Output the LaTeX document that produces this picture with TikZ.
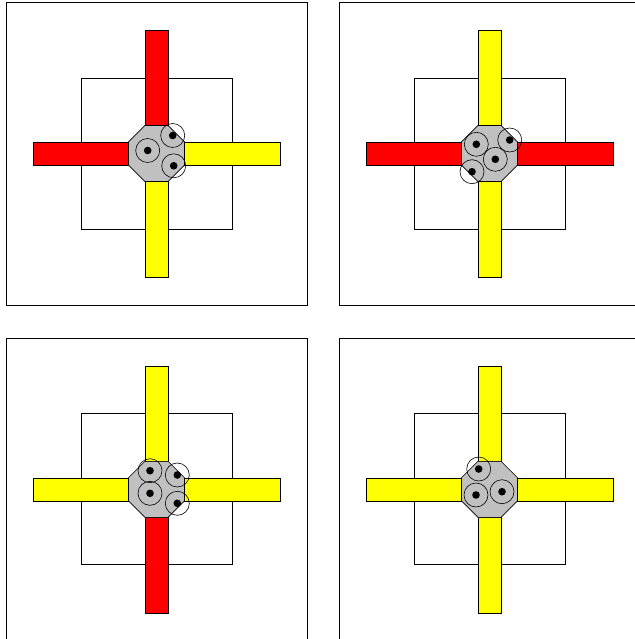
\documentclass[tikz,border=0pt]{standalone}
\definecolor{hubgray}{RGB}{192,192,192}
\definecolor{armred}{RGB}{255,0,0}
\definecolor{armyellow}{RGB}{255,255,0}
\tikzset{
  x=1pt, y=-1pt,
  frame/.style={draw=black, line width=1pt},
  inner/.style={draw=black, line width=0.7pt},
  arm/.style={draw=black, line width=0.6pt},
  hub/.style={draw=black, line width=0.6pt, fill=hubgray},
  ring/.style={draw=black, line width=0.6pt},
  dot/.style={fill=black},
}
% #1 cx, #2 cy, #3 top, #4 left, #5 right, #6 bottom, #7 name
\newcommand\junctionpanel[7]{%
  \begin{scope}[shift={(#1,#2)}]
    \coordinate (#7) at (0,0);
    \draw[frame] (-150.5,-150.5) rectangle (150.5,151.5);
    \draw[inner] (-75.5,-75.5) rectangle (75.5,75.5);
    \draw[arm, fill=#3] (-11.5,-123.5) rectangle (11.5,-28);
    \draw[arm, fill=#4] (-123.5,-11.5) rectangle (-28,11.5);
    \draw[arm, fill=#5] (28,-11.5) rectangle (123.5,11.5);
    \draw[arm, fill=#6] (-11.5,28) rectangle (11.5,123.5);
    \draw[hub] (-11.6,-28) -- (11.6,-28) -- (28,-11.6) -- (28,11.6) -- (11.6,28)
      -- (-11.6,28) -- (-28,11.6) -- (-28,-11.6) -- cycle;
  \end{scope}}
\newcommand\car[3]{%
  \begin{scope}[shift={(#1)}]
    \draw[ring] (#2,#3) circle[radius=12];
    \fill[dot] (#2,#3) circle[radius=3.8];
  \end{scope}}
\begin{document}
\begin{tikzpicture}
  \useasboundingbox (0,0) rectangle (634,639);
  \junctionpanel{156.5}{153.5}{armred}{armred}{armyellow}{armyellow}{p1}
  \junctionpanel{489.5}{153.5}{armyellow}{armred}{armred}{armyellow}{p2}
  \junctionpanel{156.5}{489.3}{armyellow}{armyellow}{armyellow}{armred}{p3}
  \junctionpanel{489.5}{489.3}{armyellow}{armyellow}{armyellow}{armyellow}{p4}
  % panel 1 cars
  \car{p1}{-8.8}{-3}
  \car{p1}{16.2}{-18}
  \car{p1}{17.2}{12.3}
  % panel 2 cars
  \car{p2}{-13.2}{-9.2}
  \car{p2}{20.2}{-13.5}
  \car{p2}{5.8}{5.8}
  \car{p2}{-17.5}{18.2}
  % panel 3 cars
  \car{p3}{-6.5}{-18.6}
  \car{p3}{20.8}{-14.3}
  \car{p3}{-6.5}{4}
  \car{p3}{20.8}{14}
  % panel 4 cars
  \car{p4}{-10.8}{-20.3}
  \car{p4}{-13.5}{5.7}
  \car{p4}{12.5}{2.4}
\end{tikzpicture}
\end{document}
